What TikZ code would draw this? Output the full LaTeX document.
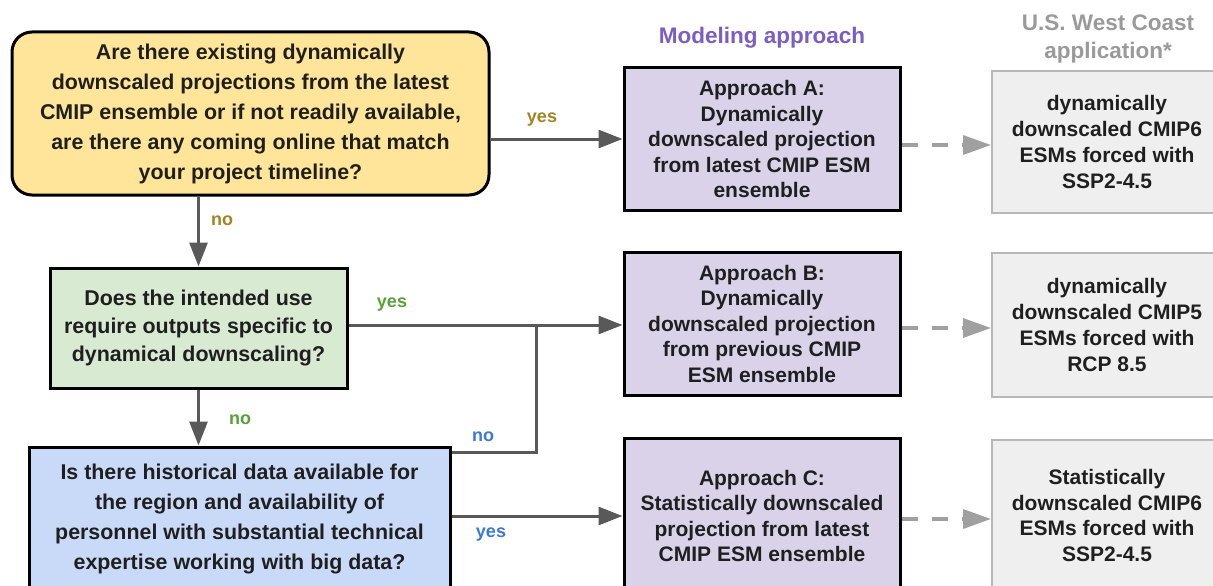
\documentclass[tikz,border=0pt]{standalone}
\usepackage{fontspec}
\setmainfont{Liberation Sans}
\usetikzlibrary{arrows.meta}
\definecolor{yfill}{HTML}{FFE599}
\definecolor{gfill}{HTML}{D9EAD3}
\definecolor{bfill}{HTML}{C9DAF8}
\definecolor{pfill}{HTML}{D9D2E9}
\definecolor{afill}{HTML}{EFEFEF}
\definecolor{aline}{HTML}{B7B7B7}
\definecolor{conn}{HTML}{595959}
\definecolor{dconn}{HTML}{A0A0A0}
\definecolor{olive}{HTML}{A08523}
\definecolor{lgreen}{HTML}{5AA03A}
\definecolor{lblue}{HTML}{3C78D8}
\definecolor{ptitle}{HTML}{7A5EC2}
\definecolor{gtitle}{HTML}{9A9A9A}
\definecolor{txt}{HTML}{1F1F1F}
\tikzset{
  qbox/.style={draw=black, line width=3pt, inner sep=0pt, align=center, text=txt,
    font=\bfseries\fontsize{21.4}{30}\selectfont},
  apbox/.style={draw=black, line width=3pt, fill=pfill, inner sep=0pt, align=center, text=txt,
    minimum width=276pt, font=\bfseries\fontsize{21}{25.5}\selectfont},
  appbox/.style={draw=aline, line width=2pt, fill=afill, inner sep=0pt, align=center, text=txt,
    minimum width=230pt, font=\bfseries\fontsize{21}{25.8}\selectfont},
  arr/.style={draw=conn, line width=3pt, -{Triangle[length=24pt,width=18pt]}},
  plainconn/.style={draw=conn, line width=3pt},
  darr/.style={draw=dconn, line width=3.5pt, dash pattern=on 16pt off 14pt,
    -{Triangle[length=28pt,width=19pt]}},
  lbl/.style={font=\bfseries\fontsize{18}{20}\selectfont, inner sep=0pt},
  ttl/.style={font=\bfseries\fontsize{22.5}{28}\selectfont, inner sep=0pt, align=center}
}
\begin{document}
\begin{tikzpicture}[x=1pt,y=-1pt]
\clip (0,0) rectangle (1213,586);
\fill[white] (0,0) rectangle (1213,586);

% question boxes
\node[qbox, fill=yfill, rounded corners=20pt, minimum width=477pt, minimum height=163pt] (Y) at (250.5,113.5)
  {Are there existing dynamically\\downscaled projections from the latest\\CMIP ensemble or if not readily available,\\are there any coming online that match\\your project timeline?};
\node[qbox, fill=gfill, minimum width=297pt, minimum height=120pt, font=\bfseries\fontsize{21.4}{28}\selectfont] (G) at (198.5,328)
  {Does the intended use\\require outputs specific to\\dynamical downscaling?};
\node[qbox, fill=bfill, minimum width=421pt, minimum height=144pt] (Bl) at (239.5,519)
  {Is there historical data available for\\the region and availability of\\personnel with substantial technical\\expertise working with big data?};

% approach boxes
\node[apbox, minimum height=142pt] (A) at (762,139)
  {Approach A:\\Dynamically\\downscaled projection\\from latest CMIP ESM\\ensemble};
\node[apbox, minimum height=143pt] (B) at (762,323.5)
  {Approach B:\\Dynamically\\downscaled projection\\from previous CMIP\\ESM ensemble};
\node[apbox, minimum height=156pt] (C) at (762,516)
  {Approach C:\\Statistically downscaled\\projection from latest\\CMIP ESM ensemble};

% application boxes
\node[appbox, minimum height=142pt] (W1) at (1107,142)
  {dynamically\\downscaled CMIP6\\ESMs forced with\\SSP2-4.5};
\node[appbox, minimum height=144pt] (W2) at (1107,325)
  {dynamically\\downscaled CMIP5\\ESMs forced with\\RCP 8.5};
\node[appbox, minimum height=151pt] (W3) at (1107,515.5)
  {Statistically\\downscaled CMIP6\\ESMs forced with\\SSP2-4.5};

% titles
\node[ttl, text=ptitle] (T1) at (762,38) {Modeling approach};
\node[ttl, text=gtitle] (T2) at (1108,38.5) {U.S. West Coast\\application*};

% connectors
\coordinate (j) at (536,325);
\draw[arr] (Y.east |- A.west) -- (A.west);
\draw[arr] (Y.south -| G.north) -- (G.north);
\draw[arr] (G.east |- j) -- (B.west |- j);
\draw[arr] (G.south) -- (G.south |- Bl.north);
\draw[plainconn] ([yshift=-7pt]Bl.north east) -| (j);
\draw[arr] (Bl.east |- C.west) -- (C.west);

\draw[darr] ([yshift=-6pt]A.east) -- ([yshift=-3pt]W1.west);
\draw[darr] ([yshift=-4.5pt]B.east) -- ([yshift=-3pt]W2.west);
\draw[darr] ([yshift=-3pt]C.east) -- ([yshift=-3.5pt]W3.west);

% labels
\node[lbl, text=olive] (l1) at (542,120) {yes};
\node[lbl, text=olive] (l2) at (222,221) {no};
\node[lbl, text=lgreen] (l3) at (392,305) {yes};
\node[lbl, text=lgreen] (l4) at (240,420) {no};
\node[lbl, text=lblue] (l5) at (483,437) {no};
\node[lbl, text=lblue] (l6) at (491,535) {yes};
\end{tikzpicture}
\end{document}
